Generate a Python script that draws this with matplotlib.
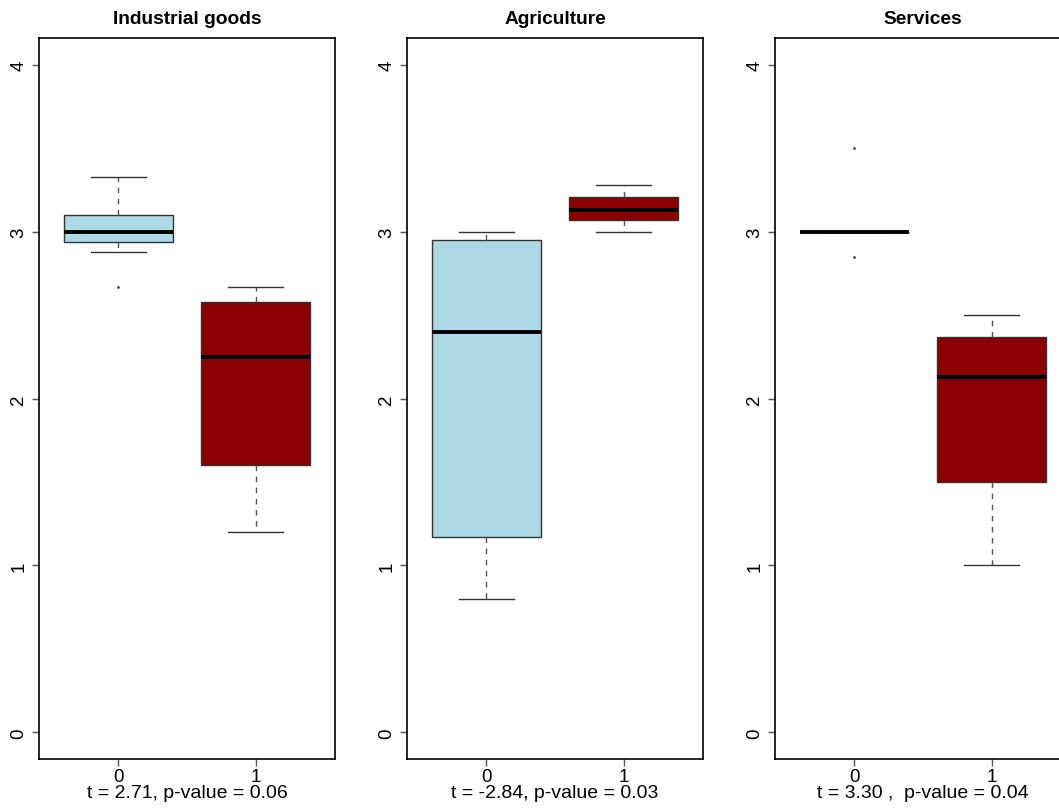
import matplotlib
matplotlib.use("Agg")
import matplotlib.pyplot as plt

plt.rcParams['font.family'] = ['Liberation Sans', 'DejaVu Sans']

# Sector panels and the two comparison groups
sectors = ["Industrial goods", "Agriculture", "Services"]
groups = ["0", "1"]
test_labels = [
    "t = 2.71, p-value = 0.06",
    "t = -2.84, p-value = 0.03",
    "t = 3.30 ,  p-value = 0.04",
]

# Five-number summaries per sector, one entry per group (0, 1)
industrial_whislo = [2.88, 1.20]
industrial_q1 = [2.94, 1.60]
industrial_med = [3.00, 2.25]
industrial_q3 = [3.10, 2.58]
industrial_whishi = [3.33, 2.67]
industrial_fliers = [[2.67], []]

agriculture_whislo = [0.80, 3.00]
agriculture_q1 = [1.17, 3.07]
agriculture_med = [2.40, 3.13]
agriculture_q3 = [2.95, 3.21]
agriculture_whishi = [3.00, 3.28]
agriculture_fliers = [[], []]

services_whislo = [3.00, 1.00]
services_q1 = [3.00, 1.50]
services_med = [3.00, 2.13]
services_q3 = [3.00, 2.37]
services_whishi = [3.00, 2.50]
services_fliers = [[3.50, 2.85], []]

y_ticks = [0, 1, 2, 3, 4]
box_colors = ["#ADD8E6", "#8B0000"]

summaries = [
    (industrial_whislo, industrial_q1, industrial_med, industrial_q3, industrial_whishi, industrial_fliers),
    (agriculture_whislo, agriculture_q1, agriculture_med, agriculture_q3, agriculture_whishi, agriculture_fliers),
    (services_whislo, services_q1, services_med, services_q3, services_whishi, services_fliers),
]

W, H = 1059, 812
fig = plt.figure(figsize=(W / 100, H / 100), dpi=100)
fig.patch.set_facecolor("white")

panel_left_px = [39, 407, 775]
panel_w_px = 296
panel_top_px = 39
panel_bottom_px = 760

for i, (sector, summ, tlabel) in enumerate(zip(sectors, summaries, test_labels)):
    left = panel_left_px[i] / W
    bottom = (H - panel_bottom_px) / H
    width = panel_w_px / W
    height = (panel_bottom_px - panel_top_px) / H
    ax = fig.add_axes([left, bottom, width, height])

    whislo, q1, med, q3, whishi, fliers = summ
    stats = []
    for g in range(len(groups)):
        stats.append(dict(label=groups[g], whislo=whislo[g], q1=q1[g], med=med[g],
                          q3=q3[g], whishi=whishi[g], fliers=fliers[g]))

    bp = ax.bxp(stats, positions=[0, 1], widths=0.8, patch_artist=True,
                showfliers=True,
                boxprops=dict(edgecolor="#333333", linewidth=1.0),
                medianprops=dict(color="black", linewidth=2.8, solid_capstyle="butt"),
                whiskerprops=dict(color="#555555", linewidth=1.0, linestyle=(0, (4, 4))),
                capprops=dict(color="#333333", linewidth=1.0),
                flierprops=dict(marker=".", markersize=2.0, markerfacecolor="#444444",
                                markeredgecolor="#444444", linestyle="none"),
                capwidths=0.4)
    for patch, c in zip(bp["boxes"], box_colors):
        patch.set_facecolor(c)

    ax.set_xlim(-0.58, 1.58)
    ax.set_ylim(-0.16, 4.16)
    ax.set_yticks(y_ticks)
    ax.set_yticklabels([str(v) for v in y_ticks])
    ax.set_xticks([0, 1])
    ax.set_xticklabels(groups)

    for sp in ax.spines.values():
        sp.set_color("black")
        sp.set_linewidth(1.2)

    ax.tick_params(axis="both", which="major", length=4.8, width=1.0, color="#555555",
                   labelsize=13.5, labelcolor="black")
    ax.tick_params(axis="x", pad=1.5)
    ax.tick_params(axis="y", pad=3.5, labelrotation=90)
    for lab in ax.get_yticklabels():
        lab.set_verticalalignment("center")

    ax.set_title(sector, fontsize=13.8, fontweight="bold", pad=11)
    ax.annotate(tlabel, xy=(0.5, 0), xycoords="axes fraction",
                xytext=(0, -27.2), textcoords="offset points",
                ha="center", va="baseline", fontsize=14)

fig.savefig("out.png", dpi=100, facecolor="white")
